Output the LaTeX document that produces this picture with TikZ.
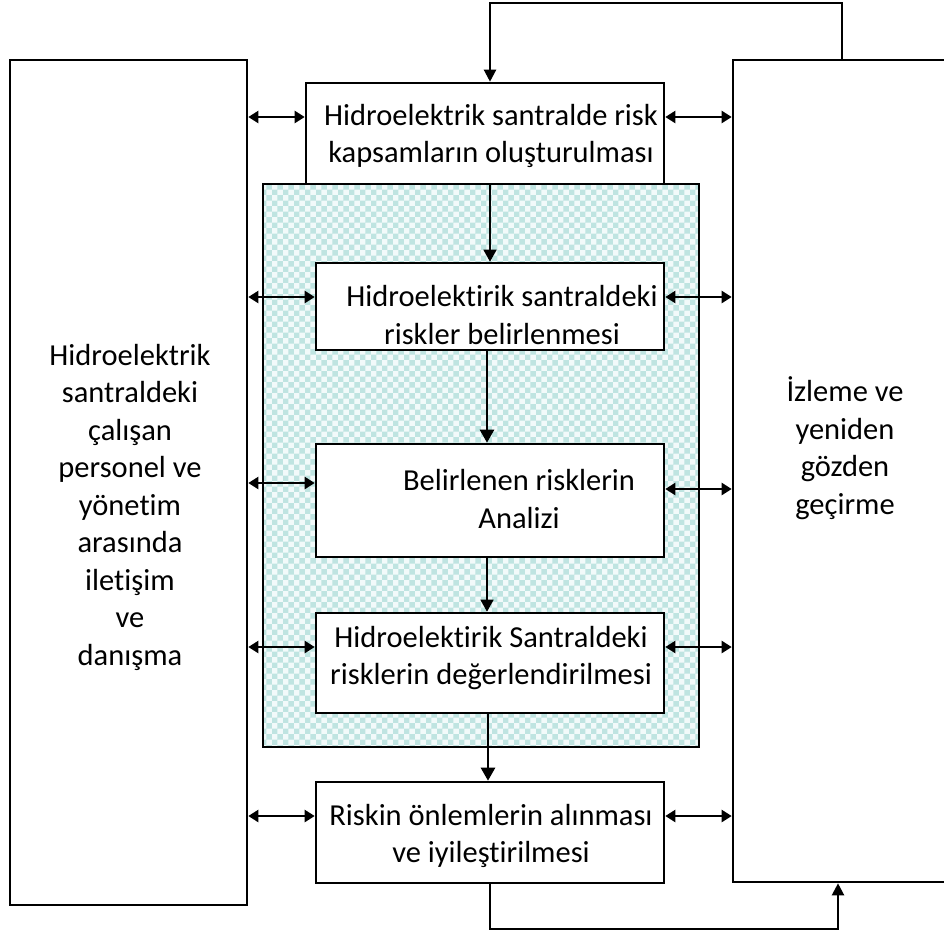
\documentclass[tikz,border=0pt]{standalone}
\usepackage{fontspec}
\setmainfont{Carlito}[Ligatures=NoCommon]
\usetikzlibrary{arrows.meta,patterns}
\definecolor{zonefill}{HTML}{F2FAFA}
\definecolor{zonedot}{HTML}{BFE4E1}
\begin{document}
\begin{tikzpicture}[x=1pt,y=-1pt,
  box/.style={draw=black,line width=2.6pt,fill=white,rectangle,inner sep=0pt},
  zone/.style={draw=black,line width=2.6pt,rectangle,inner sep=0pt,
    pattern=checkerboard,pattern color=zonedot,preaction={fill=zonefill}},
  txt/.style={align=center,font=\fontsize{30.5}{37.5}\selectfont,inner sep=0pt},
  dbl/.style={line width=2.2pt,{Triangle[length=10pt,width=12pt]}-{Triangle[length=10pt,width=12pt]}},
  flow/.style={line width=1.5pt,-{Triangle[length=12pt,width=13pt]}},
  bigflow/.style={line width=2.5pt,-{Triangle[length=13pt,width=14pt]}},
  loop/.style={line width=2.2pt,-{Triangle[length=12pt,width=12pt]}}]
\useasboundingbox (0,0) rectangle (944,938);
\clip (0,0) rectangle (944,938);

% side panels
\node[box,minimum width=237pt,minimum height=845pt] (L) at (128.5,482.5) {};
\node[box,minimum width=227pt,minimum height=822pt] (R) at (846.5,471) {};

% shaded analysis zone and the process boxes
\node[zone,minimum width=436pt,minimum height=563pt] (Z) at (481,465.5) {};
\node[box,minimum width=358pt,minimum height=101pt] (T) at (485,133.5) {};
\node[box,minimum width=348pt,minimum height=87pt] (B2) at (490,306.5) {};
\node[box,minimum width=348pt,minimum height=113pt] (B3) at (490,500.5) {};
\node[box,minimum width=348pt,minimum height=100pt] (B4) at (490,663) {};
\node[box,minimum width=348pt,minimum height=101pt] (B5) at (490,832.5) {};

% texts
\node[txt] (tL) at (130,507) {Hidroelektrik\\santraldeki\\çalışan\\personel ve\\yönetim\\arasında\\iletişim\\ve\\danışma};
\node[txt] (tR) at (845,448) {İzleme ve\\yeniden\\gözden\\geçirme};
\node[txt] (tT) at (491,136) {Hidroelektrik santralde risk\\kapsamların oluşturulması};
\node[txt] (t2) at (502,315) {Hidroelektirik santraldeki\\riskler belirlenmesi};
\node[txt] (t3) at (519,499) {Belirlenen risklerin\\Analizi};
\node[txt] (t4) at (491,658) {Hidroelektirik Santraldeki\\risklerin değerlendirilmesi};
\node[txt] (t5) at (491,836) {Riskin önlemlerin alınması\\ve iyileştirilmesi};

% communication arrows, left side
\coordinate (aT) at ([yshift=16.5pt]T.west);
\coordinate (a2) at ([yshift=9.5pt]B2.west);
\coordinate (a3) at ([yshift=17.5pt]B3.west);
\coordinate (a4) at ([yshift=16pt]B4.west);
\coordinate (a5) at ([yshift=16.5pt]B5.west);
\foreach \c in {aT,a2,a3,a4,a5}
  \draw[dbl] (L.east |- \c) -- (\c);

% monitoring arrows, right side
\coordinate (bT) at ([yshift=16.5pt]T.east);
\coordinate (b2) at ([yshift=9.5pt]B2.east);
\coordinate (b3) at ([yshift=11.5pt]B3.east);
\coordinate (b4) at ([yshift=16pt]B4.east);
\coordinate (b5) at ([yshift=16.5pt]B5.east);
\foreach \c in {bT,b2,b3,b4,b5}
  \draw[dbl] (\c) -- (R.west |- \c);

% process flow
\draw[flow] ([xshift=5pt]T.south) -- (B2.north);
\draw[bigflow] ([xshift=-3pt]B2.south) -- ([xshift=-3pt]B3.north);
\draw[flow] ([xshift=-3pt]B3.south) -- ([xshift=-3pt]B4.north);
\draw[bigflow] ([xshift=-2pt]B4.south) -- ([xshift=-2pt]B5.north);

% feedback loops
\draw[loop] ([xshift=-4.5pt]R.north) -- ++(0,-56) -| ([xshift=5pt]T.north);
\draw[loop] (B5.south) -- ++(0,45) -| ([xshift=-8.5pt]R.south);
\end{tikzpicture}
\end{document}
